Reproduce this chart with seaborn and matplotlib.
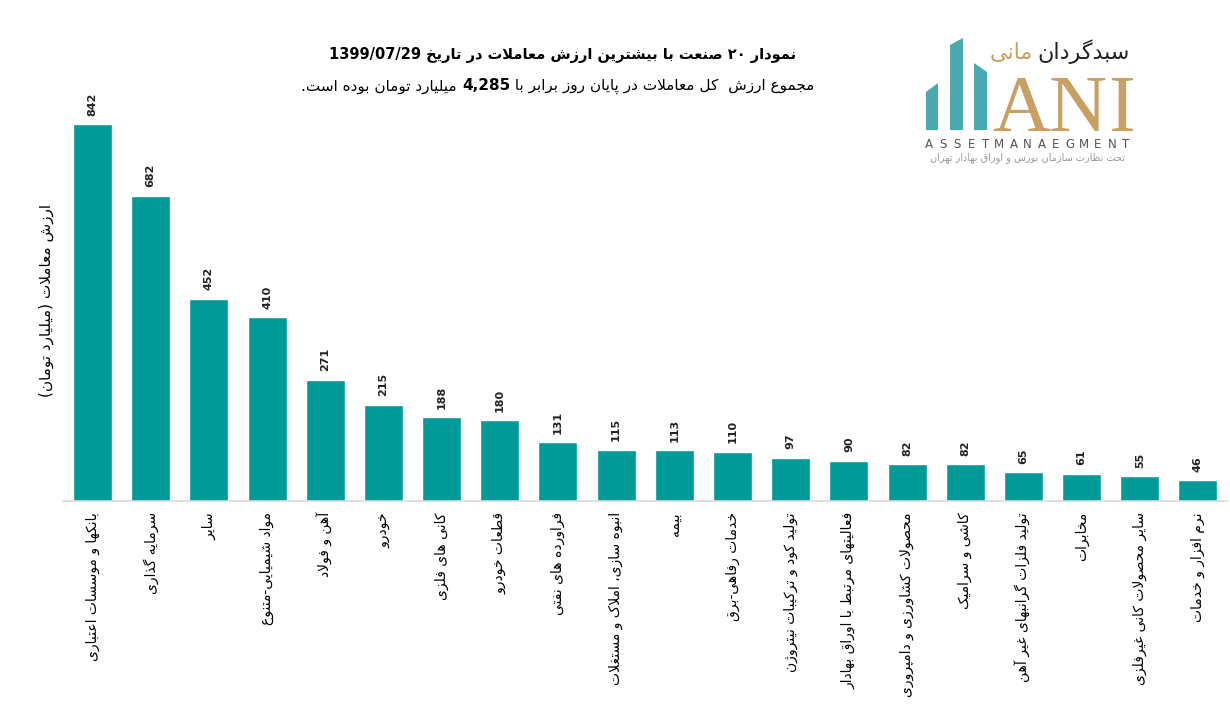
import re

import matplotlib
matplotlib.use("Agg")
import matplotlib.pyplot as plt
from matplotlib.patches import Polygon
import numpy as np
import seaborn as sns

# Data (billion toman)
industries = [
    "بانکها و موسسات اعتباری",
    "سرمایه گذاری",
    "سایر",
    "مواد شیمیایی-متنوع",
    "آهن و فولاد",
    "خودرو",
    "کانی های فلزی",
    "قطعات خودرو",
    "فراورده های نفتی",
    "انبوه سازی، املاک و مستغلات",
    "بیمه",
    "خدمات رفاهی-برق",
    "تولید کود و ترکیبات نیتروژن",
    "فعالیتهای مرتبط با اوراق بهادار",
    "محصولات کشاورزی و دامپروری",
    "کاشی و سرامیک",
    "تولید فلزات گرانبهای غیر آهن",
    "مخابرات",
    "سایر محصولات کانی غیرفلزی",
    "نرم افزار و خدمات",
]
trade_value = [842, 682, 452, 410, 271, 215, 188, 180, 131, 115,
               113, 110, 97, 90, 82, 82, 65, 61, 55, 46]

title_line1 = "نمودار ۲۰ صنعت با بیشترین ارزش معاملات در تاریخ 1399/07/29"
line2_before = "مجموع ارزش  کل معاملات در پایان روز برابر با "
line2_number = "4,285"
line2_after = " میلیارد تومان بوده است."
y_label = "ارزش معاملات (میلیارد تومان)"

BAR_COLOR = "#009B98"
GOLD = "#C9A063"
LOGO_TEAL = "#4AA8B0"


# --- minimal Arabic/Persian shaping + right-to-left ordering ---------------
DUAL = {"ئ": 0xFE89, "ب": 0xFE8F, "ت": 0xFE95, "ث": 0xFE99, "ج": 0xFE9D,
        "ح": 0xFEA1, "خ": 0xFEA5, "س": 0xFEB1, "ش": 0xFEB5, "ص": 0xFEB9,
        "ض": 0xFEBD, "ط": 0xFEC1, "ظ": 0xFEC5, "ع": 0xFEC9, "غ": 0xFECD,
        "ف": 0xFED1, "ق": 0xFED5, "ك": 0xFED9, "ل": 0xFEDD, "م": 0xFEE1,
        "ن": 0xFEE5, "ه": 0xFEE9, "ي": 0xFEF1, "پ": 0xFB56, "چ": 0xFB7A,
        "ک": 0xFB8E, "گ": 0xFB92, "ی": 0xFBFC}
RIGHT = {"آ": 0xFE81, "أ": 0xFE83, "ؤ": 0xFE85, "إ": 0xFE87, "ا": 0xFE8D,
         "ة": 0xFE93, "د": 0xFEA9, "ذ": 0xFEAB, "ر": 0xFEAD, "ز": 0xFEAF,
         "و": 0xFEED, "ى": 0xFEEF, "ژ": 0xFB8A}
LAM_ALEF = {"ا": 0xFEFB, "آ": 0xFEF5, "أ": 0xFEF7, "إ": 0xFEF9}
LTR_RUN = re.compile(r"[0-9A-Za-z۰-۹]+(?:[/,.][0-9A-Za-z۰-۹]+)*")
MIRROR = {"(": ")", ")": "("}


def shape(s):
    out = []
    i = 0
    while i < len(s):
        c = s[i]
        prev = s[i - 1] if i > 0 else ""
        to_prev = int(prev in DUAL and (c in DUAL or c in RIGHT))
        if c == "ل" and i + 1 < len(s) and s[i + 1] in LAM_ALEF:
            out.append(chr(LAM_ALEF[s[i + 1]] + to_prev))
            i += 2
            continue
        nxt = s[i + 1] if i + 1 < len(s) else ""
        to_next = int(c in DUAL and (nxt in DUAL or nxt in RIGHT))
        if c in DUAL:
            form = {(0, 0): 0, (1, 0): 1, (0, 1): 2, (1, 1): 3}[(to_prev, to_next)]
            out.append(chr(DUAL[c] + form))
        elif c in RIGHT:
            out.append(chr(RIGHT[c] + to_prev))
        else:
            out.append(c)
        i += 1
    return "".join(out)


def rtl(s):
    shaped = shape(s)
    parts, pos = [], 0
    for m in LTR_RUN.finditer(shaped):
        parts.append(("r", shaped[pos:m.start()]))
        parts.append(("l", m.group()))
        pos = m.end()
    parts.append(("r", shaped[pos:]))
    vis = []
    for kind, t in reversed(parts):
        if kind == "l":
            vis.append(t)
        else:
            vis.append("".join(MIRROR.get(ch, ch) for ch in reversed(t)))
    return "".join(vis)


# --- style -----------------------------------------------------------------
sns.set_style("white")
plt.rcParams["font.family"] = ["DejaVu Sans"]
plt.rcParams["axes.unicode_minus"] = False

fig = plt.figure(figsize=(12.3, 7.2), dpi=100)
ax = fig.add_axes([0.0516, 0.3042, 0.946, 0.5569])

labels = [rtl(t) for t in industries]
sns.barplot(x=labels, y=trade_value, color=BAR_COLOR, width=0.67,
            saturation=1, ax=ax)
ax.set_xlim(-0.5, len(labels) - 0.5)
ax.set_ylim(0, 896)

ax.bar_label(ax.containers[0], labels=[str(v) for v in trade_value],
             rotation=90, padding=6, fontsize=8, fontweight="bold",
             color="#222222")

ax.set_xticks(range(len(labels)))
ax.set_xticklabels(labels, rotation=90, ha="center", va="top", fontsize=10,
                   color="black")
ax.tick_params(axis="x", length=0, pad=8)
ax.set_yticks([])
ax.set_xlabel("")
ax.set_ylabel(rtl(y_label), fontsize=11, color="black")
ax.yaxis.set_label_coords(-0.008, 0.5)
for side in ["top", "right", "left"]:
    ax.spines[side].set_visible(False)
ax.spines["bottom"].set_color("#D9D9D9")
ax.spines["bottom"].set_linewidth(1.2)

# overlay in pixel coordinates for title + logo
ov = fig.add_axes([0, 0, 1, 1], zorder=5)
ov.set_xlim(0, 1230)
ov.set_ylim(720, 0)
ov.axis("off")
ov.patch.set_alpha(0)

ov.text(563, 55, rtl(title_line1), ha="center", va="center", fontsize=10.5,
        fontweight="bold", color="black")

# second line: regular text with the total in bold, laid out right to left
fig.canvas.draw()
renderer = fig.canvas.get_renderer()
pieces = [(rtl(line2_after), "normal"), (line2_number, "bold"),
          (rtl(line2_before), "normal")]
arts = [ov.text(0, 0, t, fontsize=11, fontweight=w, va="center", ha="left",
                color="black")
        for t, w in pieces]
widths = []
inv = ov.transData.inverted()
for a in arts:
    bb = a.get_window_extent(renderer)
    x0 = inv.transform((bb.x0, bb.y0))[0]
    x1 = inv.transform((bb.x1, bb.y0))[0]
    widths.append(x1 - x0)
x = 558 - sum(widths) / 2
for a, w in zip(arts, widths):
    a.set_position((x, 86))
    x += w

# logo
for pts in [[(926, 130), (926, 92), (938, 83), (938, 130)],
            [(950, 130), (950, 45), (963, 38), (963, 130)],
            [(974, 130), (974, 63), (987, 72), (987, 130)]]:
    ov.add_patch(Polygon(pts, closed=True, color=LOGO_TEAL, lw=0))
for letter, cx in zip("ANI", [1021, 1078, 1122]):
    ov.text(cx, 131, letter, ha="center", va="baseline", fontsize=58,
            family="Liberation Serif", color=GOLD)
brand = "ASSETMANAEGMENT"
for letter, cx in zip(brand, np.linspace(929, 1126, len(brand))):
    ov.text(cx, 148, letter, ha="center", va="baseline", fontsize=8.5,
            color="#555555")
ov.text(1028, 158, rtl("تحت نظارت سازمان بورس و اوراق بهادار تهران"),
        ha="center", va="center", fontsize=7, color="#999999")
ov.text(1130, 52, rtl("سبدگردان"), ha="right", va="center", fontsize=16,
        color="#222222")
ov.text(1033, 52, rtl("مانی"), ha="right", va="center", fontsize=16,
        color=GOLD)

fig.savefig("out.png", dpi=100)
